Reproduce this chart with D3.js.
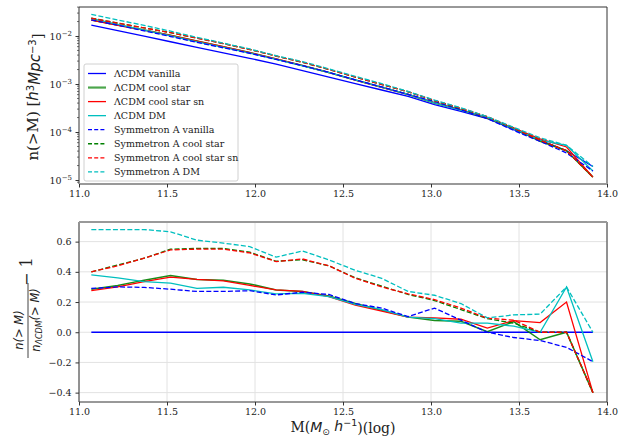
<!DOCTYPE html>
<html>
<head>
<meta charset="utf-8">
<script src="https://cdn.jsdelivr.net/npm/d3@7"></script>
<style>
  body { margin: 0; background: #fff; }
  svg text { font-family: "DejaVu Serif", serif; fill: #222; }
</style>
</head>
<body>
<div id="container"></div>
<script>
// mass bins, log10(M / Msun h^-1)
const massBins = [11.07, 11.22, 11.37, 11.52, 11.67, 11.82, 11.97, 12.12, 12.27, 12.42,
                  12.57, 12.72, 12.87, 13.02, 13.17, 13.32, 13.47, 13.62, 13.77, 13.92];

// cumulative mass function n(>M) [h^3 Mpc^-3]
const nLcdmVanilla = [0.01679, 0.01288, 0.009886, 0.007586, 0.005821, 0.004467, 0.003428, 0.002600, 0.001905, 0.001396,
                      0.001023, 0.000750, 0.000550, 0.000372, 0.000269, 0.000191, 0.000112, 0.0000676, 0.0000407, 0.0000191];
const nLcdmCool    = [0.02158, 0.01687, 0.01330, 0.01043, 0.007858, 0.006008, 0.004525, 0.003328, 0.002419, 0.001731,
                      0.001217, 0.000859, 0.000605, 0.000401, 0.000289, 0.000192, 0.000120, 0.0000642, 0.0000407, 0.0000115];
const nLcdmCoolSn  = [0.02141, 0.01674, 0.01320, 0.01035, 0.007858, 0.005986, 0.004491, 0.003328, 0.002419, 0.001725,
                      0.001207, 0.000855, 0.000605, 0.000407, 0.000292, 0.000196, 0.000121, 0.0000719, 0.0000488, 0.0000115];
const nLcdmDm      = [0.02317, 0.01752, 0.01320, 0.01005, 0.007509, 0.005798, 0.004388, 0.003260, 0.002396, 0.001725,
                      0.001212, 0.000863, 0.000605, 0.000405, 0.000285, 0.000202, 0.000116, 0.0000676, 0.0000529, 0.0000154];
const nSymVanilla  = [0.02166, 0.01674, 0.01282, 0.009748, 0.007393, 0.005673, 0.004371, 0.003242, 0.002410, 0.001745,
                      0.001217, 0.000870, 0.000607, 0.000432, 0.000291, 0.000191, 0.000108, 0.0000639, 0.0000366, 0.0000154];
const nSymCool     = [0.02351, 0.01861, 0.01473, 0.01176, 0.009052, 0.006946, 0.005245, 0.003822, 0.002819, 0.002010,
                      0.001391, 0.000979, 0.000688, 0.000450, 0.000309, 0.000208, 0.000119, 0.0000676, 0.0000407, 0.0000115];
const nSymCoolSn   = [0.02351, 0.01855, 0.01473, 0.01172, 0.009023, 0.006924, 0.005228, 0.003817, 0.002829, 0.002010,
                      0.001388, 0.000975, 0.000690, 0.000452, 0.000312, 0.000209, 0.000121, 0.0000676, 0.0000407, 0.0000115];
const nSymDm       = [0.02821, 0.02164, 0.01661, 0.01263, 0.009372, 0.007103, 0.005372, 0.003892, 0.002930, 0.002065,
                      0.001442, 0.001018, 0.000699, 0.000463, 0.000320, 0.000209, 0.000125, 0.0000757, 0.0000529, 0.0000191];

// relative difference n / n_LCDM vanilla - 1
const rLcdmVanilla = [0, 0, 0, 0, 0, 0, 0, 0, 0, 0, 0, 0, 0, 0, 0, 0, 0, 0, 0, 0];
const rLcdmCool    = [0.285, 0.31, 0.345, 0.375, 0.35, 0.345, 0.32, 0.28, 0.27, 0.24,
                      0.19, 0.145, 0.10, 0.077, 0.073, 0.004, 0.07, -0.05, 0.0, -0.40];
const rLcdmCoolSn  = [0.275, 0.30, 0.335, 0.365, 0.35, 0.34, 0.31, 0.28, 0.27, 0.236,
                      0.18, 0.14, 0.10, 0.095, 0.086, 0.027, 0.077, 0.064, 0.20, -0.40];
const rLcdmDm      = [0.38, 0.36, 0.335, 0.325, 0.29, 0.298, 0.28, 0.254, 0.258, 0.236,
                      0.185, 0.15, 0.10, 0.09, 0.06, 0.06, 0.04, 0.0, 0.30, -0.195];
const rSymVanilla  = [0.29, 0.30, 0.297, 0.285, 0.27, 0.27, 0.275, 0.247, 0.265, 0.25,
                      0.19, 0.16, 0.103, 0.16, 0.08, 0.0, -0.035, -0.055, -0.10, -0.195];
const rSymCool     = [0.40, 0.445, 0.49, 0.55, 0.555, 0.555, 0.53, 0.47, 0.48, 0.44,
                      0.36, 0.305, 0.25, 0.21, 0.15, 0.09, 0.06, 0.0, 0.0, -0.40];
const rSymCoolSn   = [0.40, 0.44, 0.49, 0.545, 0.55, 0.55, 0.525, 0.468, 0.485, 0.44,
                      0.357, 0.30, 0.254, 0.216, 0.16, 0.093, 0.08, 0.0, 0.0, -0.40];
const rSymDm       = [0.68, 0.68, 0.68, 0.665, 0.61, 0.59, 0.567, 0.497, 0.538, 0.479,
                      0.41, 0.357, 0.27, 0.245, 0.19, 0.095, 0.115, 0.12, 0.30, 0.0];

const seriesLabels = ["ΛCDM vanilla", "ΛCDM cool star", "ΛCDM cool star sn", "ΛCDM DM",
                      "Symmetron A vanilla", "Symmetron A cool star", "Symmetron A cool star sn", "Symmetron A DM"];
const nSeries = [nLcdmVanilla, nLcdmCool, nLcdmCoolSn, nLcdmDm, nSymVanilla, nSymCool, nSymCoolSn, nSymDm];
const rSeries = [rLcdmVanilla, rLcdmCool, rLcdmCoolSn, rLcdmDm, rSymVanilla, rSymCool, rSymCoolSn, rSymDm];
const xTicks = [11.0, 11.5, 12.0, 12.5, 13.0, 13.5, 14.0];
const topTicks = [1e-2, 1e-3, 1e-4, 1e-5];
const botTicks = [-0.4, -0.2, 0.0, 0.2, 0.4, 0.6];

// styles
const colors = ["#0000ff", "#008000", "#ff0000", "#00bfbf", "#0000ff", "#008000", "#ff0000", "#00bfbf"];
const dashed = [false, false, false, false, true, true, true, true];

const W = 633, H = 437;
const svg = d3.select("#container").append("svg")
    .attr("width", W).attr("height", H);

const x = d3.scaleLinear().domain([11, 14]).range([79, 607]);
const yTop = d3.scaleLog().domain([Math.pow(10, -5.083), Math.pow(10, -1.396)]).range([184, 7]);
const yBot = d3.scaleLinear().domain([-0.462, 0.730]).range([402, 222]);

const line = (ys) => d3.line().x((d, i) => x(massBins[i])).y(d => ys(d));

// ---- bottom panel grid
const grid = svg.append("g");
grid.selectAll(".gx").data(xTicks).enter().append("line")
    .attr("x1", d => x(d)).attr("x2", d => x(d))
    .attr("y1", 222).attr("y2", 402)
    .attr("stroke", "#e2e2e2").attr("stroke-width", 1);
grid.selectAll(".gy").data(botTicks).enter().append("line")
    .attr("x1", 79).attr("x2", 607)
    .attr("y1", d => yBot(d)).attr("y2", d => yBot(d))
    .attr("stroke", "#e2e2e2").attr("stroke-width", 1);

// ---- lines
const topG = svg.append("g");
const botG = svg.append("g");
nSeries.forEach((s, k) => {
  [[topG, s, yTop], [botG, rSeries[k], yBot]].forEach(([g, data, ys]) => {
    g.append("path")
      .datum(data)
      .attr("d", line(ys))
      .attr("fill", "none")
      .attr("stroke", colors[k])
      .attr("stroke-width", k === 1 ? 1.5 : 1.3)
      .attr("stroke-opacity", k === 1 ? 0.9 : 1)
      .attr("stroke-dasharray", dashed[k] ? "5,2.2" : null);
  });
});

// ---- axes
function frame(top, bottom, topCol, botCol) {
  const g = svg.append("g");
  g.append("line").attr("x1", 79).attr("x2", 79).attr("y1", top).attr("y2", bottom).attr("stroke", "#333");
  g.append("line").attr("x1", 607).attr("x2", 607).attr("y1", top).attr("y2", bottom).attr("stroke", "#333");
  g.append("line").attr("x1", 79).attr("x2", 607).attr("y1", top).attr("y2", top)
    .attr("stroke", topCol).attr("stroke-width", topCol === "#333" ? 1 : 2);
  g.append("line").attr("x1", 79).attr("x2", 607).attr("y1", bottom).attr("y2", bottom)
    .attr("stroke", botCol).attr("stroke-width", botCol === "#333" ? 1 : 2);
}
frame(7, 184, "#333", "#999");
frame(222, 402, "#999", "#333");

function xAxis(yPos) {
  const ax = svg.append("g")
    .attr("transform", `translate(0,${yPos})`)
    .call(d3.axisBottom(x).tickValues(xTicks).tickFormat(d3.format(".1f")).tickSize(3.5).tickPadding(2.5));
  ax.select(".domain").remove();
  ax.selectAll("line").attr("stroke", "#333");
  ax.selectAll("text").style("font-family", "DejaVu Serif").style("font-size", "9.5px").attr("fill", "#333");
}
xAxis(184);
xAxis(402);

// top y axis (log)
const yTopAx = svg.append("g").attr("transform", "translate(79,0)")
  .call(d3.axisLeft(yTop).tickValues(topTicks).tickSize(3.5).tickPadding(3).tickFormat(""));
yTopAx.select(".domain").remove();
yTopAx.selectAll("line").attr("stroke", "#333");
yTopAx.selectAll(".tick").append("text")
  .attr("x", -7).attr("dy", "0.35em").attr("text-anchor", "end")
  .style("font-size", "9.5px").attr("fill", "#333")
  .each(function(d) {
    const t = d3.select(this);
    t.append("tspan").text("10");
    t.append("tspan").attr("dy", "-0.5em").style("font-size", "7px").text("−" + Math.round(-Math.log10(d)));
  });
const minor = [];
[-6, -5, -4, -3, -2].forEach(e => { for (let m = 2; m <= 9; m++) minor.push(m * Math.pow(10, e)); });
svg.append("g").selectAll("line")
  .data(minor.filter(v => v >= yTop.domain()[0] && v <= yTop.domain()[1]))
  .enter().append("line")
  .attr("x1", 77).attr("x2", 79)
  .attr("y1", d => yTop(d)).attr("y2", d => yTop(d))
  .attr("stroke", "#333").attr("stroke-width", 0.7);

// bottom y axis
const yBotAx = svg.append("g").attr("transform", "translate(79,0)")
  .call(d3.axisLeft(yBot).tickValues(botTicks).tickFormat(d3.format(".1f")).tickSize(3.5).tickPadding(4));
yBotAx.select(".domain").remove();
yBotAx.selectAll("line").attr("stroke", "#333");
yBotAx.selectAll("text").style("font-family", "DejaVu Serif").style("font-size", "9.5px").attr("fill", "#333")
  .text(d => d3.format(".1f")(d).replace("-", "−").replace("−0.0", "0.0"));

// ---- labels
const yl = svg.append("text")
  .attr("transform", "translate(38,97) rotate(-90)")
  .attr("text-anchor", "middle")
  .style("font-size", "15px");
yl.append("tspan").text("n(>M) [");
yl.append("tspan").style("font-family", "DejaVu Sans").style("font-style", "italic").text("h");
yl.append("tspan").attr("dy", "-0.45em").style("font-size", "10px").style("font-family", "DejaVu Sans").text("3");
yl.append("tspan").attr("dy", "0.45em").style("font-family", "DejaVu Sans").style("font-style", "italic").text("Mpc");
yl.append("tspan").attr("dy", "-0.45em").style("font-size", "10px").style("font-family", "DejaVu Sans").text("−3");
yl.append("tspan").attr("dy", "0.45em").text("]");

const fr = svg.append("g").attr("transform", "translate(28,320) rotate(-90)");
fr.append("text").attr("x", -10).attr("y", -5).attr("text-anchor", "middle")
  .style("font-family", "DejaVu Sans").style("font-style", "italic").style("font-size", "11.5px")
  .text("n(> M)");
fr.append("line").attr("x1", -38).attr("x2", 37).attr("y1", 0).attr("y2", 0)
  .attr("stroke", "#111").attr("stroke-width", 0.8);
const den = fr.append("text").attr("x", 0).attr("y", 12).attr("text-anchor", "middle")
  .style("font-family", "DejaVu Sans").style("font-style", "italic").style("font-size", "11.5px");
den.append("tspan").text("n");
den.append("tspan").attr("dy", "0.3em").style("font-size", "8px").text("ΛCDM");
den.append("tspan").attr("dy", "-0.3em").text("(> M)");
fr.append("text").attr("x", 34).attr("y", 4).style("font-size", "16px").text("− 1");

const xl = svg.append("text").attr("x", 343).attr("y", 432).attr("text-anchor", "middle")
  .style("font-size", "14px");
xl.append("tspan").text("M(");
xl.append("tspan").style("font-family", "DejaVu Sans").style("font-style", "italic").text("M");
xl.append("tspan").attr("dy", "0.3em").style("font-size", "9px").style("font-family", "DejaVu Sans").text("⊙");
xl.append("tspan").attr("dy", "-0.3em").style("font-family", "DejaVu Sans").style("font-style", "italic").text(" h");
xl.append("tspan").attr("dy", "-0.45em").style("font-size", "9.5px").style("font-family", "DejaVu Sans").text("−1");
xl.append("tspan").attr("dy", "0.45em").text(")(log)");

// ---- legend
const leg = svg.append("g").attr("transform", "translate(84,64)");
leg.append("rect").attr("width", 154).attr("height", 117).attr("rx", 2)
  .attr("fill", "#fff").attr("fill-opacity", 0.8).attr("stroke", "#d0d0d0");
seriesLabels.forEach((lab, k) => {
  const yy = 9.5 + k * 14.05;
  leg.append("line").attr("x1", 4).attr("x2", 22).attr("y1", yy).attr("y2", yy)
    .attr("stroke", colors[k])
    .attr("stroke-width", k === 1 ? 2.2 : 1.3)
    .attr("stroke-opacity", k === 1 ? 0.7 : 1)
    .attr("stroke-dasharray", dashed[k] ? "4,2.2" : null);
  leg.append("text").attr("x", 30).attr("y", yy).attr("dy", "0.35em")
    .style("font-size", "9.5px").text(lab);
});
</script>
</body>
</html>
